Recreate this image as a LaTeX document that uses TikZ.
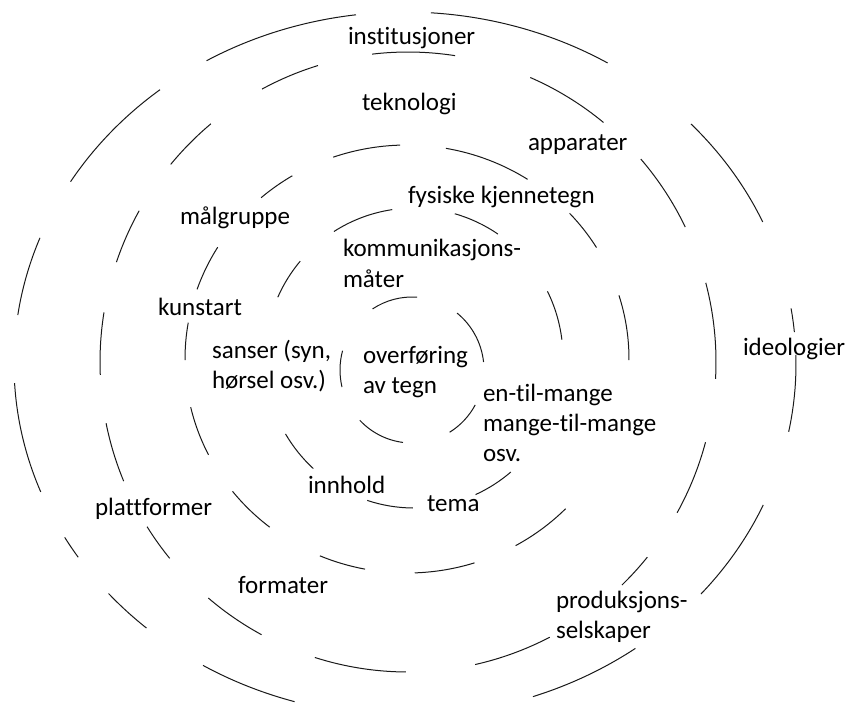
\documentclass[tikz,border=0pt]{standalone}
\usepackage{fontspec}
\setmainfont{Carlito}[Ligatures=NoCommon]
\newcommand{\ringdash}[6]{\draw[ringline] (#1,#2) ++(#5:#3 and #4) arc[start angle=#5, end angle=#6, x radius=#3, y radius=#4];}
\begin{document}
\begin{tikzpicture}[x=1pt,y=-1pt,
  ringline/.style={line width=1pt, black!90},
  lbl/.style={anchor=base west, inner sep=0pt, outer sep=0pt, font=\fontsize{25}{30.5}\selectfont, text=black}]
\useasboundingbox (0,0) rectangle (846,713);
% ring 5 (outer)
\foreach \a/\b in {239.5/262.8, 273.8/301.2, 317/336.2, 350.9/354.8, 358.5/371.1, 23.6/40.8, 53.9/70.9, 106.4/121.1, 131.4/139.3, 146.7/150.5, 158.7/176.9, 188/201, 211.2/231.2}
  {\ringdash{405}{364}{391}{352}{\a}{\b}}
% ring 4
\foreach \a/\b in {241.7/253, 263.3/278.8, 293.4/309.4, 319.1/334.2, 345.2/363.1, 15/29.1, 39/46, 62.6/77.4, 90.4/107.6, 118.4/130.4, 140.7/147.9, 157.4/168.6, 177.6/189.2, 198.8/209.2, 219.6/230.2}
  {\ringdash{408}{362}{308}{310}{\a}{\b}}
% ring 3
\foreach \a/\b in {250.6/268.2, 280.1/302.9, 317.1/328.6, 342.7/360.3, 44.4/60.7, 72.3/88, 100.9/113.1, 128.2/141.8, 153.4/167, 179.7/189.8, 199/211.5, 228.9/238.9}
  {\ringdash{407}{359}{222}{214}{\a}{\b}}
% ring 2
\foreach \a/\b in {237.5/261.6, 285.9/304.3, 333.6/353, 49.5/65.6, 90.4/108.3, 132.5/149.6, 203.9/220.2}
  {\ringdash{414}{358}{149}{150}{\a}{\b}}
% ring 1 (inner)
\foreach \a/\b in {236.8/274, 308.7/353.7, 28.6/58.5, 97.2/136.5, 166.5/195.3}
  {\ringdash{412}{370}{72}{73}{\a}{\b}}
% labels
\node[lbl] (inst) at (348,44) {institusjoner};
\node[lbl] (tekn) at (362,110) {teknologi};
\node[lbl] (appa) at (528,150) {apparater};
\node[lbl] (fysi) at (408,203) {fysiske kjennetegn};
\node[lbl] (malg) at (180,224) {målgruppe};
\node[lbl] (komm1) at (343,256) {kommunikasjons-};
\node[lbl] (komm2) at (343,287) {måter};
\node[lbl] (kuns) at (158,315) {kunstart};
\node[lbl] (sans1) at (212,358) {sanser (syn,};
\node[lbl] (sans2) at (212,388) {hørsel osv.)};
\node[lbl] (over1) at (363,363) {overføring};
\node[lbl] (over2) at (363,393) {av tegn};
\node[lbl] (ideo) at (743,355) {ideologier};
\node[lbl] (entil1) at (483,401) {en-til-mange};
\node[lbl] (entil2) at (483,431) {mange-til-mange};
\node[lbl] (entil3) at (483,461) {osv.};
\node[lbl] (innh) at (308,493) {innhold};
\node[lbl] (tema) at (427,511) {tema};
\node[lbl] (plat) at (95,515) {plattformer};
\node[lbl] (form) at (238,593) {formater};
\node[lbl] (prod1) at (556,608) {produksjons-};
\node[lbl] (prod2) at (556,638) {selskaper};
\end{tikzpicture}
\end{document}
